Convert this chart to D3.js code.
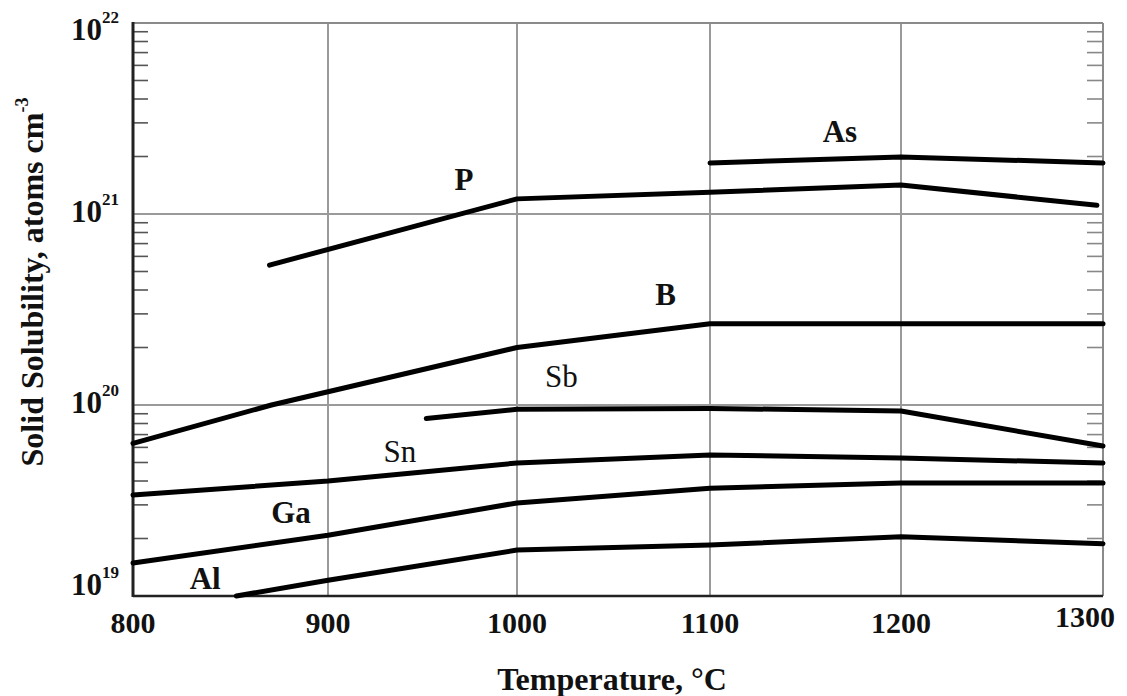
<!DOCTYPE html>
<html>
<head>
<meta charset="utf-8">
<script src="https://cdn.jsdelivr.net/npm/d3@7"></script>
<style>
  body { margin: 0; background: #fff; }
  text { font-family: "Liberation Serif", "Times New Roman", serif; fill: #111; }
</style>
</head>
<body>
<svg id="chart" width="1127" height="696"></svg>
<script>
// temperatures (deg C) and solid solubility (atoms/cm^3)
const asT = [1100, 1200, 1300];
const asV = [1.85e21, 1.99e21, 1.85e21];
const pT = [870, 1000, 1100, 1200, 1297];
const pV = [5.4e20, 1.2e21, 1.3e21, 1.42e21, 1.11e21];
const bT = [800, 871, 1000, 1100, 1200, 1300];
const bV = [6.3e19, 1.0e20, 2.0e20, 2.66e20, 2.66e20, 2.66e20];
const sbT = [952, 1000, 1100, 1200, 1300];
const sbV = [8.5e19, 9.5e19, 9.6e19, 9.3e19, 6.1e19];
const snT = [800, 900, 1000, 1100, 1200, 1300];
const snV = [3.38e19, 4.0e19, 4.97e19, 5.47e19, 5.28e19, 4.97e19];
const gaT = [800, 900, 1000, 1100, 1200, 1300];
const gaV = [1.49e19, 2.08e19, 3.07e19, 3.67e19, 3.91e19, 3.91e19];
const alT = [853, 900, 1000, 1100, 1200, 1300];
const alV = [1.0e19, 1.21e19, 1.74e19, 1.85e19, 2.04e19, 1.88e19];

const elements = ["As", "P", "B", "Sb", "Sn", "Ga", "Al"];
const labelT = [1168, 972, 1077, 1023, 938, 881, 837];
const labelV = [2.38e21, 1.34e21, 3.34e20, 1.24e20, 5.03e19, 2.41e19, 1.09e19];
const labelBold = [true, true, true, false, false, true, true];

const xTicks = [800, 900, 1000, 1100, 1200, 1300];
const yDecades = [1e19, 1e20, 1e21, 1e22];
const yExp = ["19", "20", "21", "22"];

const series = [
  [asT, asV], [pT, pV], [bT, bV], [sbT, sbV], [snT, snV], [gaT, gaV], [alT, alV]
];

const svg = d3.select("#chart");
// the printed axis is not quite even: the last interval is a little wider
const x = d3.scaleLinear().domain(xTicks).range([133, 328, 517, 710, 901, 1103]);
const y = d3.scaleLog().domain([1e19, 1e22]).range([596, 23]);

// minor ticks, 2..9 in each decade
const minor = [];
yDecades.slice(0, 3).forEach(d => { for (let k = 2; k <= 9; k++) minor.push(d * k); });

svg.append("g").selectAll("line").data(minor).enter().append("line")
  .attr("x1", x(800)).attr("x2", x(800) + 15)
  .attr("y1", d => y(d)).attr("y2", d => y(d))
  .attr("stroke", "#555").attr("stroke-width", 1.6);
svg.append("g").selectAll("line").data(minor).enter().append("line")
  .attr("x1", x(1300) - 16).attr("x2", x(1300))
  .attr("y1", d => y(d)).attr("y2", d => y(d))
  .attr("stroke", "#888").attr("stroke-width", 1.6);

// grid
svg.append("g").selectAll("line").data(xTicks.slice(1, 5)).enter().append("line")
  .attr("x1", d => x(d)).attr("x2", d => x(d))
  .attr("y1", y(1e22)).attr("y2", y(1e19))
  .attr("stroke", "#9a9a9a").attr("stroke-width", 2);
svg.append("g").selectAll("line").data([1e20, 1e21]).enter().append("line")
  .attr("x1", x(800)).attr("x2", x(1300))
  .attr("y1", d => y(d)).attr("y2", d => y(d))
  .attr("stroke", "#9a9a9a").attr("stroke-width", 2);

// frame
svg.append("line").attr("x1", x(800)).attr("x2", x(1300)).attr("y1", y(1e22)).attr("y2", y(1e22))
  .attr("stroke", "#8a8a8a").attr("stroke-width", 2);
svg.append("line").attr("x1", x(1300)).attr("x2", x(1300)).attr("y1", y(1e22)).attr("y2", y(1e19))
  .attr("stroke", "#8a8a8a").attr("stroke-width", 2);
svg.append("line").attr("x1", x(800)).attr("x2", x(1300)).attr("y1", y(1e19)).attr("y2", y(1e19))
  .attr("stroke", "#222").attr("stroke-width", 2.5);
svg.append("line").attr("x1", x(800)).attr("x2", x(800)).attr("y1", y(1e22) - 1).attr("y2", y(1e19) + 1)
  .attr("stroke", "#222").attr("stroke-width", 3);

// curves
const line = d3.line().x(d => x(d[0])).y(d => y(d[1]));
svg.append("g").selectAll("path").data(series).enter().append("path")
  .attr("d", s => line(s[0].map((t, i) => [t, s[1][i]])))
  .attr("fill", "none").attr("stroke", "#000")
  .attr("stroke-width", 5).attr("stroke-linecap", "round").attr("stroke-linejoin", "round");

// curve labels
svg.append("g").selectAll("text").data(elements).enter().append("text")
  .attr("x", (d, i) => x(labelT[i])).attr("y", (d, i) => y(labelV[i]))
  .attr("text-anchor", "middle")
  .attr("font-size", 31)
  .attr("font-weight", (d, i) => labelBold[i] ? "bold" : "normal")
  .text(d => d);

// x tick labels
svg.append("g").selectAll("text").data(xTicks).enter().append("text")
  .attr("x", d => Math.min(x(d), 1085))
  .attr("y", d => d === 1300 ? 627 : 633)
  .attr("text-anchor", "middle")
  .attr("font-size", 30).attr("font-weight", "bold")
  .text(d => d);

// y tick labels, 10 with exponent
const yl = svg.append("g").selectAll("text").data(yDecades).enter().append("text")
  .attr("x", 71)
  .attr("y", d => Math.max(40, Math.min(595, y(d) + 8)))
  .attr("font-weight", "bold");
yl.append("tspan").attr("font-size", 31).text("10");
yl.append("tspan").attr("font-size", 17).attr("dy", -17).text((d, i) => yExp[i]);

// axis titles
svg.append("text")
  .attr("x", 612).attr("y", 690)
  .attr("text-anchor", "middle")
  .attr("font-size", 32).attr("font-weight", "bold")
  .text("Temperature, \u00b0C");

const yt = svg.append("text")
  .attr("transform", "translate(43,282) rotate(-90)")
  .attr("text-anchor", "middle")
  .attr("font-size", 32).attr("font-weight", "bold");
yt.append("tspan").text("Solid Solubility, atoms cm");
yt.append("tspan").attr("font-size", 18).attr("dy", -15).text("-3");
</script>
</body>
</html>
